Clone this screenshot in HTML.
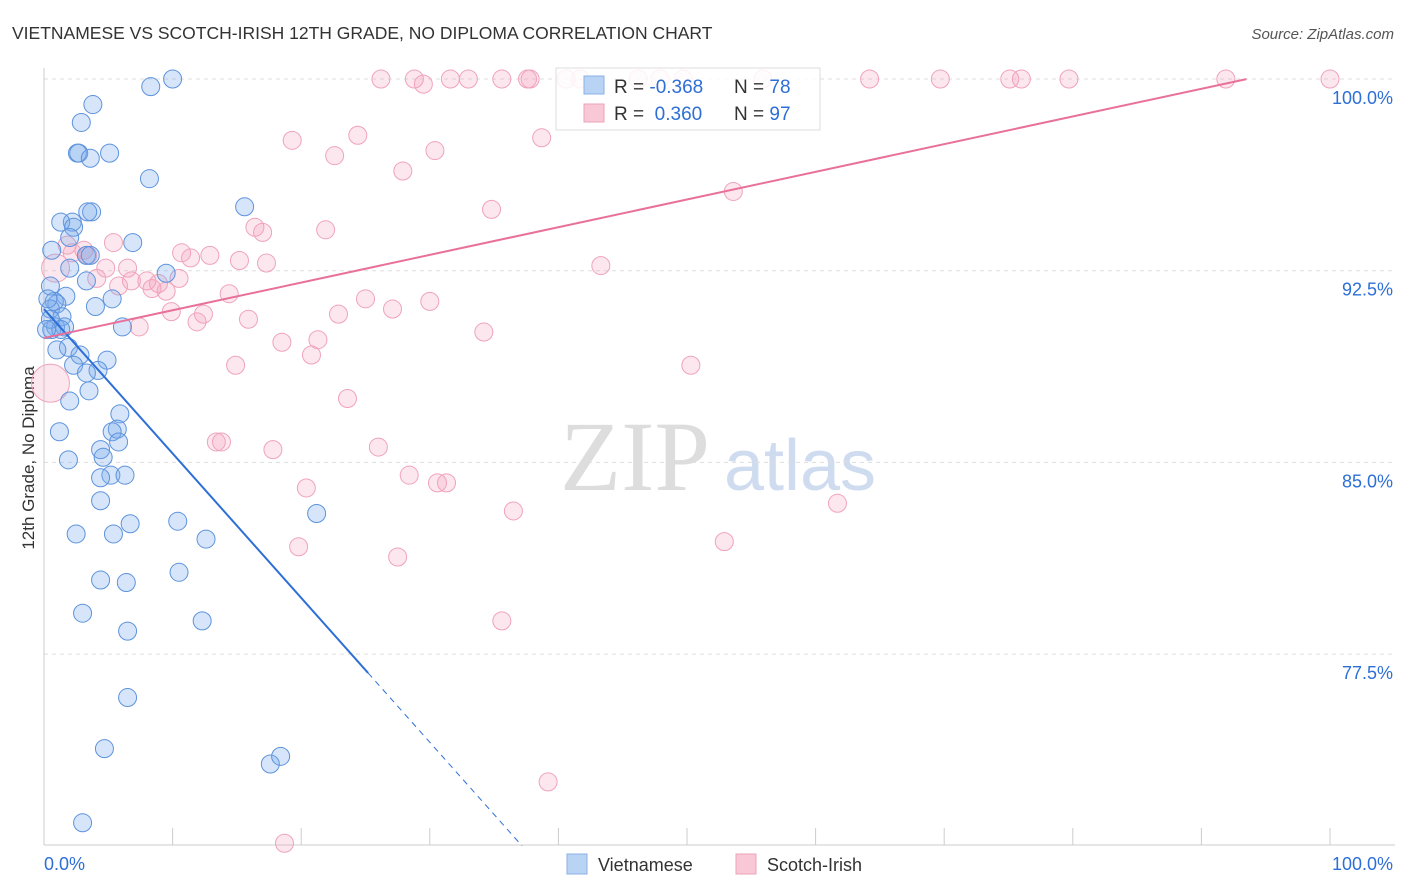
<!DOCTYPE html>
<html><head><meta charset="utf-8"><style>
body{margin:0;background:#fff;font-family:"Liberation Sans",sans-serif;}
svg{display:block}
</style></head><body>
<svg id="chart" width="1406" height="892">
<text x="12" y="39" font-size="17.5" fill="#333">VIETNAMESE VS SCOTCH-IRISH 12TH GRADE, NO DIPLOMA CORRELATION CHART</text>
<text x="1394" y="39" font-size="15" fill="#555" font-style="italic" text-anchor="end">Source: ZipAtlas.com</text>
<text x="0" y="0" transform="translate(34,458) rotate(-90)" font-size="17" fill="#333" text-anchor="middle">12th Grade, No Diploma</text>
<text x="635" y="490" font-size="100" fill="#ddd" font-family="Liberation Serif,serif" text-anchor="middle">ZIP</text>
<text x="800" y="490" font-size="72" fill="#cfdcf0" text-anchor="middle">atlas</text>
<g id="grid"></g><g id="pts"></g><g id="lines"></g>
<g>
<rect x="556" y="68" width="264" height="62" fill="#fff" fill-opacity="0.85" stroke="#ddd"/>
<rect x="584" y="76" width="20" height="18" fill="#b8d3f3" stroke="#8ab2e6"/>
<rect x="584" y="104" width="20" height="18" fill="#f8c8d6" stroke="#eea3ba"/>
<text x="614" y="93" font-size="19" fill="#333">R = <tspan fill="#2d6fd6">-0.368</tspan></text>
<text x="734" y="93" font-size="19" fill="#333">N = <tspan fill="#2d6fd6">78</tspan></text>
<text x="614" y="120" font-size="19" fill="#333">R = <tspan fill="#2d6fd6">&#160;0.360</tspan></text>
<text x="734" y="120" font-size="19" fill="#333">N = <tspan fill="#2d6fd6">97</tspan></text>
</g>
<g>
<rect x="567" y="854" width="20" height="20" fill="#b8d3f3" stroke="#8ab2e6"/>
<text x="598" y="871" font-size="18" fill="#333">Vietnamese</text>
<rect x="736" y="854" width="20" height="20" fill="#f8c8d6" stroke="#eea3ba"/>
<text x="767" y="871" font-size="18" fill="#333">Scotch-Irish</text>
</g>
</svg>
<script>
const blueX=[8.3,10.0,3.8,2.9,2.6,2.7,3.6,5.1,8.2,2.2,3.7,3.4,15.6,1.3,2.3,2.0,6.9,0.6,3.3,3.6,2.0,9.5,3.3,0.5,5.3,1.7,0.8,1.0,4.0,0.5,1.4,0.9,1.6,0.6,1.3,6.1,1.9,1.0,4.9,2.8,2.3,4.2,3.3,3.5,2.0,5.9,5.7,5.3,1.2,5.8,4.4,4.6,1.9,5.2,6.3,4.4,4.4,6.7,10.4,21.2,2.5,5.4,12.6,4.4,6.4,10.5,3.0,6.5,12.3,6.5,4.7,17.6,18.4,3.0,0.3,0.5,0.2];
const blueY=[99.7,100.0,99.0,98.3,97.1,97.1,96.9,97.1,96.1,94.4,94.8,94.8,95.0,94.4,94.2,93.8,93.6,93.3,93.1,93.1,92.6,92.4,92.1,91.9,91.4,91.5,91.3,91.2,91.1,91.0,90.7,90.3,90.3,90.2,90.2,90.3,89.5,89.4,89.0,89.2,88.8,88.6,88.5,87.8,87.4,86.9,86.3,86.2,86.2,85.8,85.5,85.2,85.1,84.5,84.5,84.4,83.5,82.6,82.7,83.0,82.2,82.2,82.0,80.4,80.3,80.7,79.1,78.4,78.8,75.8,73.8,73.2,73.5,70.9,91.4,90.6,90.2];
const pinkX=[26.2,28.8,29.5,31.6,33.0,35.6,37.6,37.8,40.6,41.7,46.2,47.9,49.7,55.9,64.2,69.7,75.1,76.0,79.7,91.9,100,19.3,24.4,22.6,30.4,38.7,27.9,53.6,34.8,16.4,17.0,21.9,5.4,1.8,3.1,2.2,3.4,10.7,11.4,12.9,15.2,17.3,6.5,4.8,43.3,4.1,10.5,6.8,8.0,8.9,8.4,9.5,5.8,14.4,25.0,30.0,27.1,9.9,22.9,12.4,11.9,15.9,7.4,34.2,21.3,18.5,20.8,14.9,50.3,23.6,13.4,13.8,17.8,26.0,28.4,31.3,30.6,20.4,61.7,36.5,52.9,19.8,27.5,35.6,39.2,18.7,0.5,0.9];
const pinkY=[100,100,99.8,100,100,100,100,100,100,100,100,100,100,100,100,100,100,100,100,100,100,97.6,97.8,97.0,97.2,97.7,96.4,95.6,94.9,94.2,94.0,94.1,93.6,93.5,93.3,93.2,93.1,93.2,93.0,93.1,92.9,92.8,92.6,92.6,92.7,92.2,92.2,92.1,92.1,92.0,91.8,91.7,91.9,91.6,91.4,91.3,91.0,90.9,90.8,90.8,90.5,90.6,90.3,90.1,89.8,89.7,89.2,88.8,88.8,87.5,85.8,85.8,85.5,85.6,84.5,84.2,84.2,84.0,83.4,83.1,81.9,81.7,81.3,78.8,72.5,70.1,88.1,92.6];
const pinkR=[];pinkR[86]=19;pinkR[87]=14;
const yTicks=[100,92.5,85,77.5];
const yTickLabels=["100.0%","92.5%","85.0%","77.5%"];
const blueTrend=[91.0,-0.565,25.2];   // intercept, slope, solid-until
const pinkTrend=[89.87,0.1083,93.5]; // intercept, slope, end x
const NS="http://www.w3.org/2000/svg";
const X=v=>44+v*12.86, Y=v=>79+(100-v)*25.56;
function mk(t,a,p){const e=document.createElementNS(NS,t);for(const k in a)e.setAttribute(k,a[k]);p.appendChild(e);return e;}
const grid=document.getElementById('grid');
yTicks.forEach((t,i)=>{
 const l=mk('line',{x1:44,x2:1395,y1:Y(t),y2:Y(t),stroke:'#ddd','stroke-dasharray':'4,4'},grid);
 
 
 const tx=mk('text',{x:1393,y:Y(t)+25,'font-size':18,fill:'#2d6fd6','text-anchor':'end'},grid);
 tx.textContent=yTickLabels[i];
 
 
});
const ax=mk('line',{x1:44,x2:1395,y1:845,y2:845,stroke:'#ccc'},grid);


const ay=mk('line',{x1:44,x2:44,y1:68,y2:845,stroke:'#ccc'},grid);


for(let i=0;i<=10;i++){const t=mk('line',{x1:X(i*10),x2:X(i*10),y1:828,y2:845,stroke:'#ccc'},grid);
 
 }
const xl0=mk('text',{x:44,y:870,'font-size':18,fill:'#2d6fd6'},grid);xl0.textContent='0.0%';


const xl1=mk('text',{x:1393,y:870,'font-size':18,fill:'#2d6fd6','text-anchor':'end'},grid);xl1.textContent='100.0%';


const pts=document.getElementById('pts');
pinkX.forEach((x,i)=>{const c=mk('circle',{cx:X(x),cy:Y(pinkY[i]),r:pinkR[i]||9,fill:'rgba(244,160,188,0.25)',stroke:'#f0a3bb','stroke-width':1},pts);
 
 });
blueX.forEach((x,i)=>{const c=mk('circle',{cx:X(x),cy:Y(blueY[i]),r:9,fill:'rgba(120,170,235,0.3)',stroke:'#5d93dd','stroke-width':1},pts);
 
 });
const L=document.getElementById('lines');
const bs=blueTrend[2], bEnd=(70-blueTrend[0])/blueTrend[1];
const b1=mk('line',{x1:X(0),y1:Y(blueTrend[0]),x2:X(bs),y2:Y(blueTrend[0]+blueTrend[1]*bs),stroke:'#2d6fd6','stroke-width':2},L);


const b2=mk('line',{x1:X(bs),y1:Y(blueTrend[0]+blueTrend[1]*bs),x2:X(bEnd),y2:Y(70),stroke:'#2d6fd6','stroke-width':1,'stroke-dasharray':'6,5'},L);


const p1=mk('line',{x1:X(0),y1:Y(pinkTrend[0]),x2:X(pinkTrend[2]),y2:Y(pinkTrend[0]+pinkTrend[1]*pinkTrend[2]),stroke:'#e8709a','stroke-width':2},L);


</script>
</body></html>
